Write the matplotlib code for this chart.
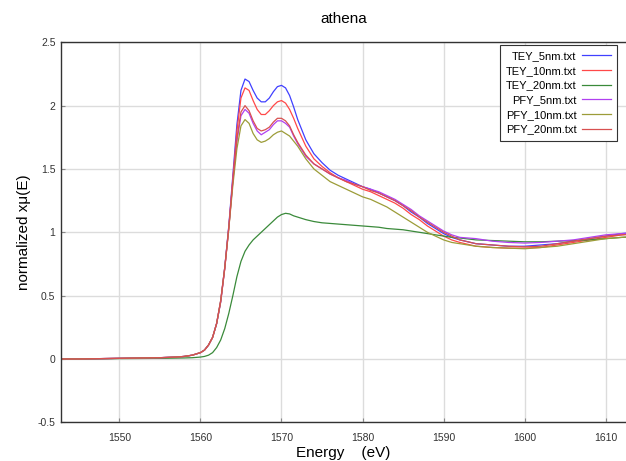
import matplotlib
matplotlib.use("Agg")
import matplotlib.pyplot as plt

plt.rcParams['font.family'] = ['Liberation Sans', 'DejaVu Sans']

energy = [1540, 1545, 1550, 1555, 1557, 1558, 1559, 1560, 1560.5, 1561, 1561.5,
          1562, 1562.5, 1563, 1563.5, 1564, 1564.5, 1565, 1565.5, 1566, 1566.5,
          1567, 1567.5, 1568, 1568.5, 1569, 1569.5, 1570, 1570.5, 1571, 1571.5,
          1572, 1573, 1574, 1575, 1576, 1577, 1578, 1579, 1580, 1581, 1582,
          1583, 1584, 1585, 1586, 1587, 1588, 1589, 1590, 1591, 1592, 1594,
          1596, 1598, 1600, 1602, 1604, 1606, 1608, 1610, 1612, 1614]

tey_5 = [0.0, 0.0, 0.005, 0.01, 0.015, 0.02, 0.03, 0.05, 0.07, 0.11, 0.17,
         0.28, 0.45, 0.72, 1.05, 1.45, 1.85, 2.12, 2.21, 2.19, 2.12,
         2.06, 2.03, 2.03, 2.06, 2.11, 2.15, 2.16, 2.14, 2.08, 1.99,
         1.89, 1.73, 1.62, 1.55, 1.49, 1.45, 1.42, 1.39, 1.36, 1.34, 1.31,
         1.28, 1.25, 1.21, 1.16, 1.12, 1.07, 1.03, 0.99, 0.96, 0.94, 0.91,
         0.90, 0.89, 0.89, 0.90, 0.91, 0.93, 0.95, 0.97, 0.99, 1.00]

tey_10 = [0.0, 0.0, 0.005, 0.01, 0.015, 0.02, 0.03, 0.05, 0.07, 0.11, 0.17,
          0.28, 0.45, 0.71, 1.03, 1.42, 1.80, 2.06, 2.14, 2.12, 2.04,
          1.97, 1.93, 1.93, 1.96, 2.00, 2.03, 2.04, 2.02, 1.97, 1.90,
          1.82, 1.68, 1.58, 1.52, 1.47, 1.43, 1.40, 1.37, 1.34, 1.32, 1.29,
          1.26, 1.23, 1.19, 1.14, 1.10, 1.05, 1.01, 0.97, 0.94, 0.92, 0.89,
          0.88, 0.875, 0.875, 0.88, 0.90, 0.92, 0.94, 0.96, 0.98, 0.99]

tey_20 = [0.0, 0.0, 0.003, 0.005, 0.007, 0.008, 0.01, 0.015, 0.02, 0.03, 0.05,
          0.09, 0.15, 0.24, 0.36, 0.50, 0.65, 0.77, 0.85, 0.90, 0.94,
          0.97, 1.00, 1.03, 1.06, 1.09, 1.12, 1.14, 1.15, 1.145, 1.13,
          1.12, 1.10, 1.085, 1.075, 1.07, 1.065, 1.06, 1.055, 1.05, 1.045, 1.04,
          1.03, 1.025, 1.02, 1.01, 1.00, 0.99, 0.98, 0.97, 0.96, 0.955, 0.94,
          0.935, 0.93, 0.925, 0.925, 0.93, 0.935, 0.94, 0.95, 0.96, 0.965]

pfy_5 = [0.0, 0.0, 0.005, 0.01, 0.015, 0.02, 0.03, 0.05, 0.07, 0.11, 0.17,
         0.28, 0.46, 0.72, 1.04, 1.40, 1.72, 1.92, 1.97, 1.94, 1.86,
         1.80, 1.77, 1.79, 1.81, 1.85, 1.88, 1.88, 1.86, 1.83, 1.76,
         1.70, 1.60, 1.54, 1.50, 1.46, 1.43, 1.41, 1.38, 1.36, 1.34, 1.32,
         1.29, 1.26, 1.22, 1.18, 1.13, 1.09, 1.05, 1.01, 0.98, 0.96, 0.95,
         0.93, 0.92, 0.915, 0.92, 0.93, 0.94, 0.96, 0.98, 0.99, 1.00]

pfy_10 = [0.0, 0.0, 0.005, 0.01, 0.015, 0.02, 0.03, 0.05, 0.07, 0.11, 0.17,
          0.28, 0.46, 0.72, 1.03, 1.37, 1.66, 1.84, 1.89, 1.86, 1.78,
          1.73, 1.71, 1.72, 1.74, 1.77, 1.79, 1.80, 1.78, 1.76, 1.72,
          1.68, 1.58, 1.50, 1.45, 1.40, 1.37, 1.34, 1.31, 1.28, 1.26, 1.23,
          1.20, 1.16, 1.12, 1.08, 1.04, 1.00, 0.97, 0.94, 0.92, 0.91, 0.89,
          0.88, 0.875, 0.87, 0.88, 0.89, 0.91, 0.93, 0.95, 0.96, 0.97]

pfy_20 = [0.0, 0.0, 0.005, 0.01, 0.015, 0.02, 0.03, 0.05, 0.07, 0.11, 0.17,
          0.28, 0.46, 0.72, 1.04, 1.41, 1.74, 1.95, 2.00, 1.96, 1.88,
          1.82, 1.80, 1.81, 1.83, 1.87, 1.90, 1.90, 1.88, 1.84, 1.77,
          1.71, 1.61, 1.54, 1.50, 1.46, 1.43, 1.40, 1.38, 1.36, 1.33, 1.31,
          1.28, 1.25, 1.21, 1.17, 1.12, 1.08, 1.04, 1.00, 0.97, 0.94, 0.91,
          0.90, 0.89, 0.885, 0.89, 0.91, 0.93, 0.95, 0.97, 0.98, 0.99]

labels = ["TEY_5nm.txt", "TEY_10nm.txt", "TEY_20nm.txt",
          "PFY_5nm.txt", "PFY_10nm.txt", "PFY_20nm.txt"]
series = [tey_5, tey_10, tey_20, pfy_5, pfy_10, pfy_20]
colors = ["#4040ff", "#ff4848", "#3a8a3a", "#b040f0", "#9c9c38", "#d85050"]

fig = plt.figure(figsize=(6.26, 4.61), dpi=100)
ax = fig.add_axes([61/626, 38.7/461, 565/626, 380/461])

for y, lab, c in zip(series, labels, colors):
    ax.plot(energy, y, color=c, lw=0.9, label=lab)

ax.set_xlim(1542.8, 1612.5)
ax.set_ylim(-0.5, 2.5)
ax.set_xticks([1550, 1560, 1570, 1580, 1590, 1600, 1610])
ax.set_yticks([-0.5, 0, 0.5, 1, 1.5, 2, 2.5])
ax.set_yticklabels(["-0.5", "0", "0.5", "1", "1.5", "2", "2.5"])
ax.grid(True, color="#dcdcdc", lw=1)
ax.set_axisbelow(True)
ax.tick_params(direction="in", length=3, color="#888888", labelsize=7.5,
               labelcolor="#333333")
ax.tick_params(axis="x", pad=8)
ax.tick_params(axis="y", pad=4)
ax.spines["right"].set_visible(False)
for s in ["left", "bottom", "top"]:
    ax.spines[s].set_color("#333333")
    ax.spines[s].set_linewidth(1)

ax.set_xlabel("Energy    (eV)", fontsize=11, labelpad=2)
ax.set_ylabel("normalized xμ(E)", fontsize=11, labelpad=5)
ax.set_title("athena", fontsize=11, pad=14)

leg = ax.legend(loc="upper right", bbox_to_anchor=(0.984, 0.993), markerfirst=False,
                fontsize=8, frameon=True, fancybox=False, framealpha=1,
                edgecolor="#333333", labelspacing=0.42, handlelength=2.6,
                borderpad=0.55, handletextpad=0.5, borderaxespad=0)
leg.get_frame().set_linewidth(0.8)

fig.savefig("out.png", dpi=100)
